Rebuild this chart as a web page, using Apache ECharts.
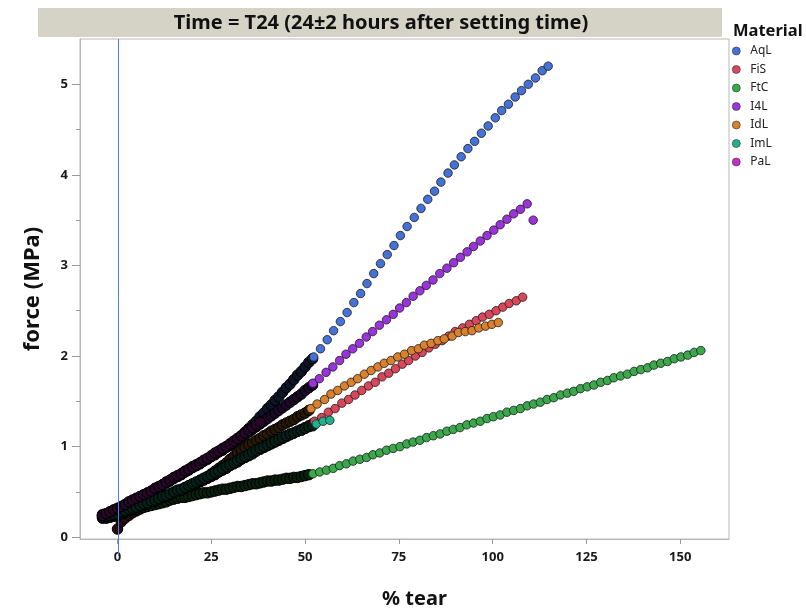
<!DOCTYPE html>
<html>
<head>
<meta charset="utf-8">
<script src="https://cdn.jsdelivr.net/npm/echarts@6/dist/echarts.min.js"></script>
<style>
html, body { margin: 0; padding: 0; background: #fff; }
#chart { width: 806px; height: 610px; }
</style>
</head>
<body>
<div id="chart"></div>
<script>
// materials in legend order
var materials = ['AqL', 'FiS', 'FtC', 'I4L', 'IdL', 'ImL', 'PaL']

// dense part of each test: % tear from -4 to 52, one reading per %
var tearGrid = [-4, -3, -2, -1, 0, 1, 2, 3, 4, 5, 6, 7, 8, 9, 10, 11, 12, 13, 14, 15, 16, 17, 18, 19, 20,
    21, 22, 23, 24, 25, 26, 27, 28, 29, 30, 31, 32, 33, 34, 35, 36, 37, 38, 39, 40, 41, 42, 43, 44, 45,
    46, 47, 48, 49, 50, 51, 52]

var aqlDense = [0.25, 0.26, 0.28, 0.30, 0.31, 0.33, 0.35, 0.37, 0.40, 0.42, 0.44, 0.46, 0.48, 0.50,
    0.53, 0.55, 0.58, 0.60, 0.63, 0.65, 0.67, 0.70, 0.72, 0.75, 0.77, 0.79, 0.82, 0.84, 0.87, 0.89, 0.92,
    0.95, 0.97, 1.00, 1.03, 1.06, 1.09, 1.12, 1.16, 1.20, 1.24, 1.28, 1.33, 1.37, 1.42, 1.46, 1.51, 1.55,
    1.60, 1.65, 1.69, 1.74, 1.79, 1.83, 1.88, 1.93, 1.97]
var fisDense = ['-', '-', '-', '-', 0.09, 0.17, 0.21, 0.24, 0.27, 0.29, 0.31, 0.33, 0.35, 0.36,
    0.38, 0.40, 0.42, 0.44, 0.45, 0.47, 0.49, 0.51, 0.53, 0.55, 0.57, 0.59, 0.61, 0.63, 0.65, 0.67, 0.69,
    0.72, 0.74, 0.76, 0.79, 0.81, 0.83, 0.86, 0.88, 0.90, 0.92, 0.95, 0.97, 0.99, 1.01, 1.03, 1.05, 1.07,
    1.09, 1.11, 1.13, 1.15, 1.17, 1.19, 1.21, 1.23, 1.25]
var ftcDense = [0.21, 0.21, 0.22, 0.23, 0.24, 0.26, 0.27, 0.29, 0.30, 0.31, 0.32, 0.33, 0.34, 0.35,
    0.36, 0.37, 0.38, 0.39, 0.41, 0.42, 0.43, 0.44, 0.44, 0.45, 0.46, 0.47, 0.48, 0.49, 0.49, 0.50, 0.51,
    0.52, 0.53, 0.53, 0.54, 0.55, 0.56, 0.56, 0.57, 0.58, 0.59, 0.59, 0.60, 0.61, 0.62, 0.62, 0.63, 0.63,
    0.64, 0.65, 0.65, 0.66, 0.66, 0.67, 0.68, 0.69]
var i4lDense = [0.24, 0.25, 0.27, 0.29, 0.31, 0.33, 0.35, 0.37, 0.40, 0.42, 0.44, 0.46, 0.48, 0.50,
    0.52, 0.55, 0.57, 0.60, 0.62, 0.65, 0.67, 0.69, 0.72, 0.74, 0.77, 0.79, 0.81, 0.84, 0.86, 0.89, 0.91,
    0.94, 0.96, 0.99, 1.01, 1.04, 1.07, 1.10, 1.13, 1.16, 1.19, 1.22, 1.25, 1.28, 1.31, 1.34, 1.37, 1.40,
    1.43, 1.46, 1.49, 1.52, 1.55, 1.58, 1.62, 1.65, 1.68]
var idlDense = [0.23, 0.23, 0.24, 0.24, 0.25, 0.26, 0.28, 0.30, 0.31, 0.33, 0.35, 0.36, 0.38, 0.39,
    0.40, 0.42, 0.44, 0.45, 0.47, 0.49, 0.51, 0.52, 0.54, 0.56, 0.58, 0.60, 0.62, 0.65, 0.67, 0.70, 0.73,
    0.76, 0.79, 0.82, 0.86, 0.89, 0.93, 0.96, 0.99, 1.02, 1.04, 1.07, 1.09, 1.12, 1.14, 1.17, 1.19, 1.21,
    1.24, 1.26, 1.28, 1.30, 1.33, 1.35, 1.37, 1.40]
var imlDense = [0.22, 0.23, 0.24, 0.25, 0.26, 0.28, 0.29, 0.31, 0.32, 0.33, 0.35, 0.37, 0.38, 0.40,
    0.41, 0.43, 0.45, 0.46, 0.48, 0.50, 0.52, 0.53, 0.55, 0.57, 0.59, 0.61, 0.63, 0.65, 0.67, 0.69, 0.71,
    0.73, 0.76, 0.78, 0.80, 0.82, 0.85, 0.87, 0.89, 0.91, 0.94, 0.96, 0.98, 1.00, 1.02, 1.04, 1.06, 1.08,
    1.10, 1.12, 1.14, 1.15, 1.17, 1.18, 1.20, 1.22, 1.23]
var palDense = [0.24, 0.26, 0.28, 0.30, 0.32, 0.34, 0.36, 0.39, 0.41, 0.43, 0.45, 0.47, 0.49, 0.51,
    0.54, 0.56, 0.58, 0.61, 0.63, 0.66, 0.68, 0.70, 0.73, 0.75, 0.78, 0.80, 0.82, 0.85, 0.87, 0.90, 0.93,
    0.95, 0.98, 1.00, 1.03, 1.06, 1.09, 1.12, 1.15, 1.18, 1.21, 1.24, 1.27]

// sparse part after ~52 % tear
var aqlTear = [52.3, 54.1, 55.9, 57.6, 59.4, 61.2, 63.0, 64.8, 66.5, 68.3, 70.1, 71.9, 73.7, 75.4, 77.2,
    79.1, 80.9, 82.7, 84.5, 86.2, 88.1, 89.8, 91.6, 93.4, 95.2, 97.0, 98.8, 100.7, 102.4, 104.2, 106.0,
    107.7, 109.5, 111.4, 113.2, 114.8]
var aqlForce = [1.99, 2.08, 2.18, 2.28, 2.38, 2.48, 2.59, 2.69, 2.80, 2.91, 3.02, 3.12, 3.22, 3.33, 3.43,
    3.53, 3.63, 3.73, 3.82, 3.92, 4.02, 4.11, 4.20, 4.29, 4.37, 4.46, 4.54, 4.63, 4.71, 4.78, 4.86, 4.93,
    5.00, 5.07, 5.15, 5.20]
var fisTear = [52.5, 54.4, 56.2, 58.0, 59.8, 61.6, 63.3, 65.1, 66.9, 68.7, 70.5, 72.3, 74.1, 75.9, 77.6,
    79.4, 81.2, 83.0, 84.7, 86.5, 88.3, 90.0, 92.0, 93.8, 95.6, 97.3, 99.1, 100.9, 102.7, 104.4, 106.3, 108.0]
var fisForce = [1.28, 1.32, 1.38, 1.42, 1.48, 1.52, 1.57, 1.62, 1.67, 1.71, 1.77, 1.81, 1.86, 1.91, 1.95,
    2.00, 2.04, 2.09, 2.13, 2.17, 2.22, 2.27, 2.31, 2.35, 2.39, 2.43, 2.46, 2.50, 2.54, 2.58, 2.61, 2.65]
var ftcTear = [52.1, 53.9, 55.7, 57.5, 59.2, 61.0, 62.8, 64.6, 66.4, 68.1, 69.9, 71.7, 73.5, 75.3, 77.1,
    78.8, 80.6, 82.4, 84.2, 86.0, 87.8, 89.5, 91.3, 93.1, 94.9, 96.7, 98.5, 100.2, 102.0, 103.8, 105.6,
    107.4, 109.2, 110.9, 112.7, 114.5, 116.3, 118.1, 119.9, 121.6, 123.4, 125.2, 127.0, 128.8, 130.6,
    132.3, 134.1, 135.9, 137.7, 139.5, 141.3, 143.0, 144.8, 146.6, 148.4, 150.2, 152.0, 153.7, 155.5]
var ftcForce = [0.70, 0.72, 0.74, 0.76, 0.79, 0.81, 0.84, 0.86, 0.88, 0.91, 0.93, 0.96, 0.98, 1.00, 1.03,
    1.05, 1.07, 1.10, 1.12, 1.14, 1.17, 1.19, 1.21, 1.24, 1.26, 1.28, 1.31, 1.33, 1.35, 1.38, 1.40, 1.42,
    1.45, 1.47, 1.49, 1.52, 1.54, 1.57, 1.59, 1.61, 1.64, 1.66, 1.68, 1.71, 1.73, 1.76, 1.78, 1.80, 1.83,
    1.85, 1.87, 1.90, 1.92, 1.94, 1.97, 1.99, 2.01, 2.04, 2.06]
var i4lTear = [52.1, 53.8, 55.6, 57.4, 59.2, 60.9, 62.7, 64.5, 66.3, 68.0, 69.8, 71.7, 73.5, 75.2, 77.0,
    78.8, 80.6, 82.3, 84.1, 85.9, 87.8, 89.6, 91.4, 93.2, 94.9, 96.7, 98.5, 100.3, 102.0, 103.8, 105.6,
    107.4, 109.2, 110.8]
var i4lForce = [1.70, 1.75, 1.82, 1.88, 1.95, 2.02, 2.08, 2.14, 2.21, 2.27, 2.34, 2.40, 2.46, 2.53, 2.59,
    2.66, 2.72, 2.78, 2.84, 2.91, 2.97, 3.03, 3.09, 3.15, 3.21, 3.27, 3.33, 3.39, 3.45, 3.51, 3.57, 3.62,
    3.68, 3.50]
var idlTear = [51.6, 53.2, 55.2, 56.9, 58.7, 60.5, 62.3, 64.0, 65.8, 67.6, 69.4, 71.1, 72.9, 74.7, 76.5,
    78.4, 80.2, 81.8, 83.6, 85.4, 87.1, 89.2, 90.9, 92.7, 94.5, 96.3, 98.1, 99.8, 101.5]
var idlForce = [1.42, 1.47, 1.52, 1.58, 1.62, 1.67, 1.71, 1.75, 1.80, 1.84, 1.88, 1.92, 1.95, 1.99, 2.02,
    2.06, 2.08, 2.12, 2.14, 2.17, 2.19, 2.22, 2.26, 2.27, 2.28, 2.31, 2.33, 2.35, 2.37]
var imlTear = [53.0, 54.8, 56.6]
var imlForce = [1.25, 1.28, 1.29]

var xTicks = [0, 25, 50, 75, 100, 125, 150]
var yTicks = [0, 1, 2, 3, 4, 5]
var yMinorTicks = [0.5, 1.5, 2.5, 3.5, 4.5]

var colors = {
    AqL: '#4472d8', FiS: '#d9475b', FtC: '#3aa84b', I4L: '#9b33dd',
    IdL: '#d9812c', ImL: '#21b28c', PaL: '#c42fc6'
}
// the dense runs overlap so much that they read nearly black
var darkColors = {
    AqL: '#0c1426', FiS: '#260d12', FtC: '#0b1f0e', I4L: '#1c0928', IdL: '#271807', ImL: '#062019', PaL: '#240825'
}
var dense = { AqL: aqlDense, FiS: fisDense, FtC: ftcDense, I4L: i4lDense, IdL: idlDense, ImL: imlDense, PaL: palDense }
var sparse = {
    AqL: [aqlTear, aqlForce], FiS: [fisTear, fisForce], FtC: [ftcTear, ftcForce],
    I4L: [i4lTear, i4lForce], IdL: [idlTear, idlForce], ImL: [imlTear, imlForce]
}

function pairs(xs, ys) {
    var out = []
    ys.forEach(function (y, i) {
        if (y !== '-') out.push([xs[i], y])
    })
    return out
}

var series = []
materials.forEach(function (m) {
    series.push({
        name: m,
        type: 'scatter',
        data: pairs(tearGrid, dense[m]),
        symbolSize: 10.5,
        itemStyle: { color: darkColors[m], borderColor: '#000', borderWidth: 1, opacity: 1 }
    })
})
materials.forEach(function (m) {
    if (!sparse[m]) return
    series.push({
        name: m,
        type: 'scatter',
        data: pairs(sparse[m][0], sparse[m][1]),
        symbolSize: 8.5,
        itemStyle: { color: colors[m], borderColor: '#1a1a1a', borderWidth: 0.8, opacity: 1 }
    })
})

var axisFont = { fontFamily: 'Noto Sans', fontWeight: 'bold', fontSize: 13, color: '#1a1a1a' }
var nameFont = { fontFamily: 'Noto Sans', fontWeight: 'bold', fontSize: 20, color: '#111' }
var frameGray = '#b8b8b8'
var blue = '#4a7fe8'

var graphics = [
    { id: 'banner', type: 'rect', shape: { x: 38, y: 8, width: 684, height: 29 }, style: { fill: '#d5d3c6' } },
    {
        id: 'title', type: 'text', x: 381, y: 23,
        style: {
            text: 'Time = T24 (24\u00b12 hours after setting time)',
            font: 'bold 20px "Noto Sans"', fill: '#111', align: 'center', verticalAlign: 'middle'
        }
    },
    {
        id: 'legendTitle', type: 'text', x: 733, y: 31,
        style: { text: 'Material', font: 'bold 16.5px "Noto Sans"', fill: '#111', align: 'left', verticalAlign: 'middle' }
    }
]

var chart = echarts.init(document.getElementById('chart'))
chart.setOption({
    animation: false,
    textStyle: { fontFamily: 'Noto Sans' },
    graphic: graphics,
    legend: {
        orient: 'vertical',
        left: 727,
        top: 40,
        icon: 'circle',
        itemWidth: 18,
        itemHeight: 8,
        itemGap: 6.5,
        textStyle: { fontSize: 12, color: '#222', fontFamily: 'Noto Sans' },
        data: materials.map(function (m) {
            return { name: m, itemStyle: { color: colors[m], borderColor: '#333', borderWidth: 0.6 } }
        })
    },
    grid: {
        left: 80, top: 39, width: 649, height: 500,
        outerBoundsMode: 'none',
        show: true, borderColor: frameGray, borderWidth: 1
    },
    xAxis: {
        type: 'value',
        min: -10,
        max: 163,
        name: '% tear',
        nameLocation: 'middle',
        nameGap: 50,
        nameTextStyle: Object.assign({ padding: [0, 0, 0, 20] }, nameFont),
        axisLine: { onZero: false, lineStyle: { color: frameGray } },
        axisTick: { customValues: xTicks, length: 5, lineStyle: { color: '#999' } },
        axisLabel: Object.assign({ customValues: xTicks, margin: 12 }, axisFont),
        splitLine: { show: false }
    },
    yAxis: [{
        type: 'value',
        min: -0.02,
        max: 5.5,
        name: 'force (MPa)',
        nameLocation: 'middle',
        nameGap: 36,
        nameTextStyle: Object.assign({}, nameFont, { fontSize: 22 }),
        axisLine: { onZero: false, lineStyle: { color: frameGray } },
        axisTick: { customValues: yTicks, length: 8, lineStyle: { color: '#999' } },
        axisLabel: Object.assign({ customValues: yTicks, margin: 12 }, axisFont),
        splitLine: { show: false }
    }, {
        // minor ticks only
        type: 'value',
        position: 'left',
        min: -0.02,
        max: 5.5,
        axisLine: { show: false, onZero: false, lineStyle: { color: frameGray } },
        axisTick: { customValues: yMinorTicks, length: 4, lineStyle: { color: '#999' } },
        axisLabel: { show: false },
        splitLine: { show: false }
    }],
    series: series
})

// blue reference line at 0 % tear, from the top of the frame to a little below it
var x0 = Math.round(chart.convertToPixel({ xAxisIndex: 0 }, 0)) + 0.5
var yTop = chart.convertToPixel({ yAxisIndex: 0 }, 5.5)
var yBottom = chart.convertToPixel({ yAxisIndex: 0 }, -0.02)
chart.setOption({
    graphic: [{
        id: 'zeroLine', type: 'line', z: 100,
        shape: { x1: x0, y1: yTop, x2: x0, y2: yBottom + 17 },
        style: { stroke: blue, lineWidth: 1 }
    }]
})
</script>
</body>
</html>
